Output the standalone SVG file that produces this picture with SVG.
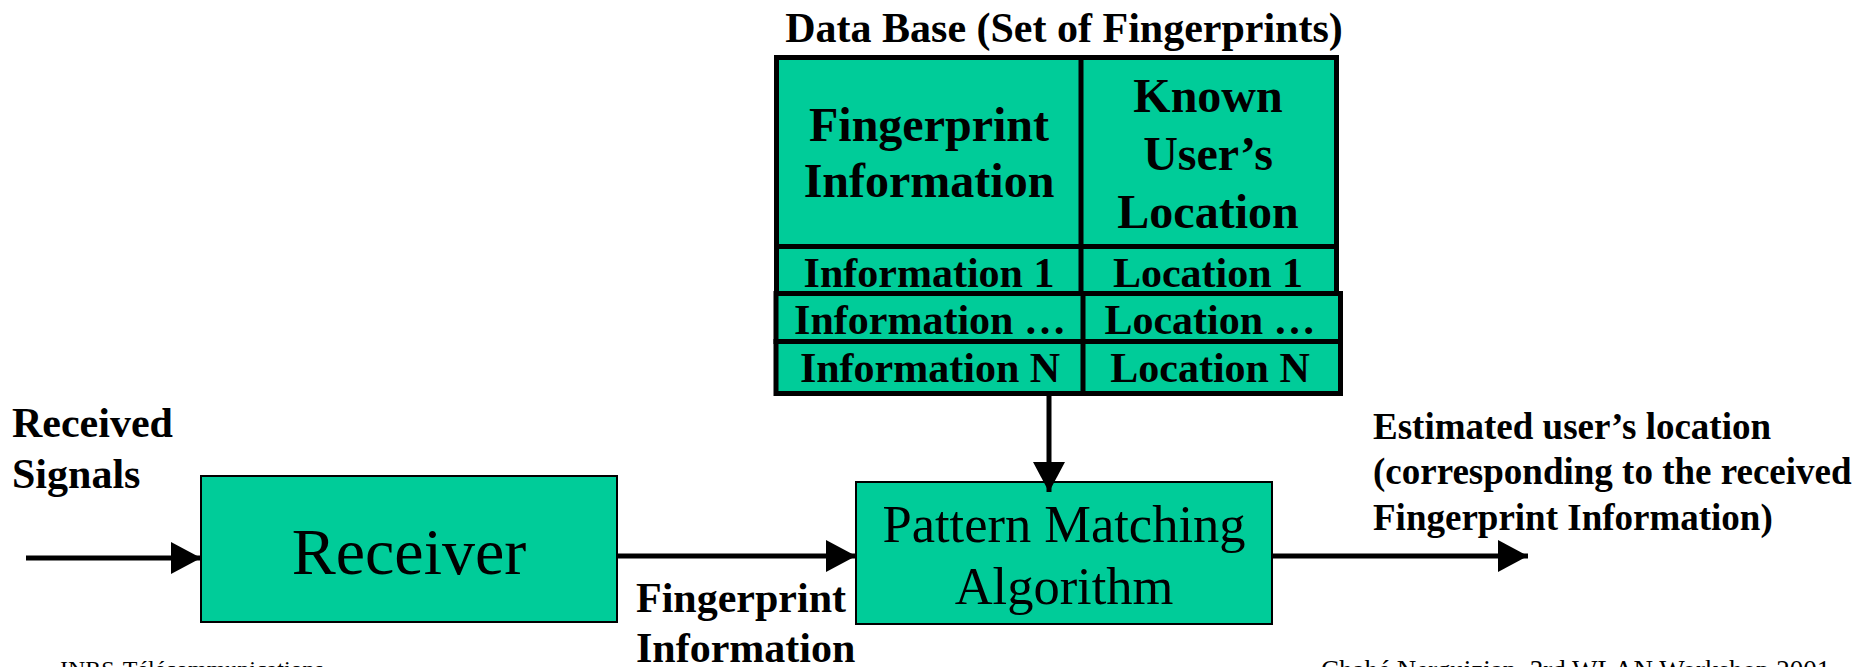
<svg xmlns="http://www.w3.org/2000/svg" width="1875" height="667" viewBox="0 0 1875 667">
<defs>
<style>
.b{font-family:"Liberation Serif","Times New Roman",serif;font-weight:bold;fill:#000}
.r{font-family:"Liberation Serif","Times New Roman",serif;fill:#000}
.tb{fill:#00CC99;stroke:#000;stroke-width:5}
.box{fill:#00CC99;stroke:#000;stroke-width:2}
.c{text-anchor:middle}
.conn{stroke:#000;stroke-width:5;fill:none}
</style>
<marker id="ah" markerUnits="userSpaceOnUse" markerWidth="30" markerHeight="32" refX="30" refY="16" orient="auto" viewBox="0 0 30 32">
<path d="M0,0 L30,16 L0,32 Z" fill="#000"/>
</marker>
</defs>
<rect width="1875" height="667" fill="#fff"/>

<g id="database">
<text class="b c" x="1064" y="42" font-size="42">Data Base (Set of Fingerprints)</text>
<rect class="tb" x="776.5" y="57.5" width="560" height="189"/>
<line x1="1081" y1="57.5" x2="1081" y2="246.5" stroke="#000" stroke-width="5"/>
<rect class="tb" x="776.5" y="246.5" width="560" height="47"/>
<line x1="1081" y1="246.5" x2="1081" y2="293.5" stroke="#000" stroke-width="5"/>
<rect class="tb" x="776" y="293.5" width="564.5" height="48"/>
<line x1="1083" y1="293.5" x2="1083" y2="341.5" stroke="#000" stroke-width="5"/>
<rect class="tb" x="776" y="341.5" width="564.5" height="52"/>
<line x1="1083" y1="341.5" x2="1083" y2="393.5" stroke="#000" stroke-width="5"/>
<text class="b c" x="929" y="141" font-size="48">Fingerprint</text>
<text class="b c" x="929" y="197" font-size="48">Information</text>
<text class="b c" x="1208" y="112" font-size="48">Known</text>
<text class="b c" x="1208" y="170" font-size="48">User’s</text>
<text class="b c" x="1208" y="228" font-size="48">Location</text>
<text class="b c" x="929" y="287" font-size="42">Information 1</text>
<text class="b c" x="1208" y="287" font-size="42">Location 1</text>
<text class="b c" x="930" y="334" font-size="42">Information …</text>
<text class="b c" x="1210" y="334" font-size="42">Location …</text>
<text class="b c" x="930" y="382" font-size="42">Information N</text>
<text class="b c" x="1210" y="382" font-size="42">Location N</text>
</g>

<g id="receiver">
<rect class="box" x="201" y="476" width="416" height="146"/>
<text class="r c" x="409" y="574" font-size="66">Receiver</text>
</g>

<g id="pattern-matching">
<rect class="box" x="856" y="482" width="416" height="142"/>
<text class="r c" x="1064" y="542" font-size="52.5">Pattern Matching</text>
<text class="r c" x="1064" y="604" font-size="52.5">Algorithm</text>
</g>

<g id="labels">
<text class="b" x="12" y="437" font-size="42">Received</text>
<text class="b" x="12" y="488" font-size="42">Signals</text>
<text class="b" x="636" y="612" font-size="42">Fingerprint</text>
<text class="b" x="636" y="662" font-size="42">Information</text>
<text class="b" x="1373" y="439" font-size="37">Estimated user’s location</text>
<text class="b" x="1373" y="484" font-size="37">(corresponding to the received</text>
<text class="b" x="1373" y="530" font-size="37">Fingerprint Information)</text>
<text class="r" x="60" y="677" font-size="24">INRS-Télécommunications</text>
<text class="r" x="1321" y="679" font-size="27">Chahé Nerguizian, 3rd WLAN Workshop 2001</text>
</g>

<g id="connectors">
<line class="conn" x1="26" y1="558" x2="201" y2="558" marker-end="url(#ah)"/>
<line class="conn" x1="617" y1="556" x2="856" y2="556" marker-end="url(#ah)"/>
<line class="conn" x1="1272" y1="556" x2="1528" y2="556" marker-end="url(#ah)"/>
<line class="conn" x1="1049" y1="395" x2="1049" y2="492" marker-end="url(#ah)"/>
</g>
</svg>
